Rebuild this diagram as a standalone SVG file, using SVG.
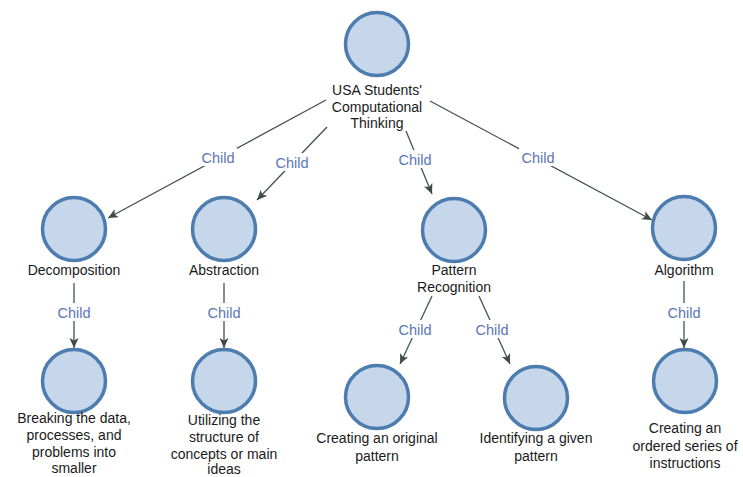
<svg xmlns="http://www.w3.org/2000/svg" width="743" height="477" viewBox="0 0 743 477">
  <style>
    .node circle { fill: #c6d6eb; stroke: #4d7cae; stroke-width: 3.5; }
    .lbl { font-family: "Liberation Sans", Arial, sans-serif; font-size: 14px; fill: #1a1a1a; text-anchor: middle; }
    .edge line { stroke: #44524e; stroke-width: 1.3; fill: none; marker-end: url(#arrow); }
    .elbl rect { fill: #ffffff; }
    .elbl text { font-family: "Liberation Sans", Arial, sans-serif; font-size: 14.5px; fill: #5a76b8; text-anchor: middle; }
  </style>
  <defs>
    <marker id="arrow" markerUnits="userSpaceOnUse" markerWidth="12" markerHeight="10" refX="10" refY="4.5" orient="auto">
      <path d="M0,0 L10,4.5 L0,9 L2.5,4.5 z" fill="#3e4c48"/>
    </marker>
  </defs>
  <rect width="743" height="477" fill="#ffffff"/>

  <!-- connectors -->
  <g id="connectors">
    <g class="edge">
      <line x1="326" y1="100" x2="108" y2="218"/>
      <line x1="327" y1="127" x2="257" y2="200"/>
      <line x1="406" y1="131" x2="432" y2="194"/>
      <line x1="430" y1="101" x2="652" y2="220"/>
      <line x1="74" y1="283" x2="74" y2="348"/>
      <line x1="224" y1="283" x2="224" y2="348"/>
      <line x1="684" y1="281" x2="684" y2="348"/>
      <line x1="432" y1="296" x2="400" y2="364"/>
      <line x1="479" y1="296" x2="510" y2="364"/>
    </g>
    <g class="elbl">
      <rect x="199" y="148" width="38" height="18"/><text x="218" y="163">Child</text>
      <rect x="273" y="153" width="38" height="18"/><text x="292" y="168">Child</text>
      <rect x="396" y="150" width="38" height="18"/><text x="415" y="165">Child</text>
      <rect x="519" y="148" width="38" height="18"/><text x="538" y="163">Child</text>
      <rect x="55" y="303" width="38" height="18"/><text x="74" y="318">Child</text>
      <rect x="205" y="303" width="38" height="18"/><text x="224" y="318">Child</text>
      <rect x="665" y="303" width="38" height="18"/><text x="684" y="318">Child</text>
      <rect x="396" y="320" width="38" height="18"/><text x="415" y="335">Child</text>
      <rect x="473" y="320" width="38" height="18"/><text x="492" y="335">Child</text>
    </g>
  </g>

  <!-- nodes -->
  <g id="root" class="node">
    <circle cx="377" cy="44" r="31.5"/>
    <text class="lbl" x="377" y="95">USA Students'</text>
    <text class="lbl" x="377" y="112">Computational</text>
    <text class="lbl" x="377" y="128">Thinking</text>
  </g>
  <g id="decomposition" class="node">
    <circle cx="74" cy="229" r="31.5"/>
    <text class="lbl" x="74" y="275">Decomposition</text>
  </g>
  <g id="abstraction" class="node">
    <circle cx="224" cy="229" r="31.5"/>
    <text class="lbl" x="224" y="275">Abstraction</text>
  </g>
  <g id="pattern-recognition" class="node">
    <circle cx="454" cy="230" r="31.5"/>
    <text class="lbl" x="454" y="275">Pattern</text>
    <text class="lbl" x="454" y="292">Recognition</text>
  </g>
  <g id="algorithm" class="node">
    <circle cx="684" cy="228" r="31.5"/>
    <text class="lbl" x="684" y="275">Algorithm</text>
  </g>
  <g id="breaking-down" class="node">
    <circle cx="74" cy="381" r="31.5"/>
    <text class="lbl" x="74" y="423">Breaking the data,</text>
    <text class="lbl" x="74" y="440">processes, and</text>
    <text class="lbl" x="74" y="457">problems into</text>
    <text class="lbl" x="74" y="473">smaller</text>
  </g>
  <g id="utilizing-structure" class="node">
    <circle cx="224" cy="381" r="31.5"/>
    <text class="lbl" x="224" y="425">Utilizing the</text>
    <text class="lbl" x="224" y="442">structure of</text>
    <text class="lbl" x="224" y="459">concepts or main</text>
    <text class="lbl" x="224" y="474">ideas</text>
  </g>
  <g id="creating-pattern" class="node">
    <circle cx="377" cy="397" r="31.5"/>
    <text class="lbl" x="377" y="443">Creating an original</text>
    <text class="lbl" x="377" y="461">pattern</text>
  </g>
  <g id="identifying-pattern" class="node">
    <circle cx="536" cy="398" r="31.5"/>
    <text class="lbl" x="536" y="443">Identifying a given</text>
    <text class="lbl" x="536" y="461">pattern</text>
  </g>
  <g id="ordered-series" class="node">
    <circle cx="685" cy="381" r="31.5"/>
    <text class="lbl" x="685" y="433">Creating an</text>
    <text class="lbl" x="685" y="451">ordered series of</text>
    <text class="lbl" x="685" y="468">instructions</text>
  </g>
</svg>
